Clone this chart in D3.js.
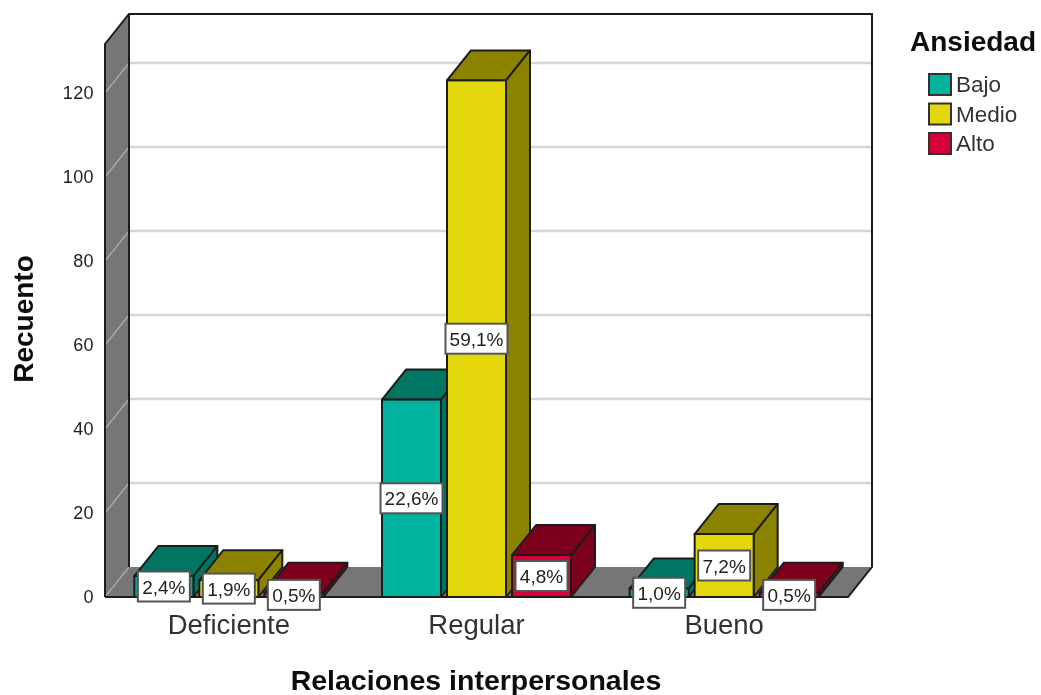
<!DOCTYPE html>
<html>
<head>
<meta charset="utf-8">
<script src="https://cdn.jsdelivr.net/npm/d3@7"></script>
<style>
  html, body { margin: 0; padding: 0; background: #fff; }
  svg { display: block; }
  text { font-family: "Liberation Sans", Arial, sans-serif; fill: #222; }
</style>
</head>
<body>
<div id="chart-container"></div>
<script>
// data
const categories = ["Deficiente", "Regular", "Bueno"];
const seriesNames = ["Bajo", "Medio", "Alto"];
const bajoValues = [5, 47, 2];
const medioValues = [4, 123, 15];
const altoValues = [1, 10, 1];
const bajoLabels = ["2,4%", "22,6%", "1,0%"];
const medioLabels = ["1,9%", "59,1%", "7,2%"];
const altoLabels = ["0,5%", "4,8%", "0,5%"];
const yTicks = [0, 20, 40, 60, 80, 100, 120];

const frontColors = ["#00b39e", "#e4d80e", "#d8003a"];
const darkColors = ["#007563", "#8b8306", "#7d001f"];

const svgWidth = 1041;
const svgHeight = 695;
const depthX = 24;   // 3D offset of the back wall
const depthY = -30;

const left = 105, right = 848, floorY = 597, topY = 44;

const xScale = d3.scaleBand().domain(categories).range([left, right]);
const xInner = d3.scaleBand().domain(seriesNames)
  .range([0, 189]).paddingInner(6 / 65);
const yScale = d3.scaleLinear().domain([0, 131.67]).range([floorY, topY]);

const rows = [];
categories.forEach((c, i) => {
  [bajoValues, medioValues, altoValues].forEach((vals, s) => {
    rows.push({
      cat: c, s: s, name: seriesNames[s], value: vals[i],
      label: [bajoLabels, medioLabels, altoLabels][s][i]
    });
  });
});

const svg = d3.select("#chart-container").append("svg")
  .attr("width", svgWidth).attr("height", svgHeight);

// the source is a slightly soft raster
svg.append("defs").append("filter").attr("id", "soft")
  .append("feGaussianBlur").attr("stdDeviation", 0.4);
const root = svg.append("g").attr("filter", "url(#soft)");

const pts = a => a.map(p => p.join(",")).join(" ");
const ink = "#1c1c1c";

// back wall
root.append("polygon")
  .attr("points", pts([[left + depthX, topY + depthY], [right + depthX, topY + depthY],
    [right + depthX, floorY + depthY], [left + depthX, floorY + depthY]]))
  .attr("fill", "#fff");

// left wall + floor
root.append("polygon")
  .attr("points", pts([[left, topY], [left + depthX, topY + depthY],
    [left + depthX, floorY + depthY], [left, floorY]]))
  .attr("fill", "#767676");
root.append("polygon")
  .attr("points", pts([[left, floorY], [right, floorY],
    [right + depthX, floorY + depthY], [left + depthX, floorY + depthY]]))
  .attr("fill", "#767676");

// gridlines
yTicks.filter(d => d > 0).forEach(d => {
  const y = yScale(d);
  root.append("line")
    .attr("x1", left + depthX).attr("x2", right + depthX)
    .attr("y1", y + depthY).attr("y2", y + depthY)
    .attr("stroke", "#d6d6d6").attr("stroke-width", 2.5);
});
yTicks.forEach(d => {
  const y = yScale(d);
  root.append("line")
    .attr("x1", left).attr("x2", left + depthX)
    .attr("y1", y).attr("y2", y + depthY)
    .attr("stroke", "#a8a8a8").attr("stroke-width", 1.5);
});

// frame
root.append("path")
  .attr("d", `M${left},${floorY}V${topY}L${left + depthX},${topY + depthY}H${right + depthX}V${floorY + depthY}L${right},${floorY}H${left}`)
  .attr("fill", "none").attr("stroke", ink).attr("stroke-width", 2);
root.append("line")
  .attr("x1", left + depthX).attr("x2", left + depthX)
  .attr("y1", topY + depthY).attr("y2", floorY + depthY)
  .attr("stroke", ink).attr("stroke-width", 2);

// y axis
const yAxis = d3.axisLeft(yScale).tickValues(yTicks).tickSize(0).tickPadding(11);
const yG = root.append("g").attr("transform", `translate(${left},0)`).call(yAxis);
yG.select(".domain").remove();
yG.selectAll("text").style("font-size", "18px").style("letter-spacing", "0.4px")
  .style("font-family", '"Liberation Sans", Arial, sans-serif').attr("fill", "#222");

// bars
const bars = root.selectAll("g.bar").data(rows).join("g").attr("class", "bar");
const barX = d => xScale(d.cat) + (xScale.bandwidth() - 189) / 2 + xInner(d.name);
const bw = xInner.bandwidth();
bars.append("polygon") // top
  .attr("points", d => {
    const x = barX(d), y = yScale(d.value);
    return pts([[x, y], [x + bw, y], [x + bw + depthX, y + depthY], [x + depthX, y + depthY]]);
  })
  .attr("fill", d => darkColors[d.s]).attr("stroke", ink).attr("stroke-width", 2)
  .attr("stroke-linejoin", "round");
bars.append("polygon") // side
  .attr("points", d => {
    const x = barX(d) + bw, y = yScale(d.value);
    return pts([[x, y], [x + depthX, y + depthY], [x + depthX, floorY + depthY], [x, floorY]]);
  })
  .attr("fill", d => darkColors[d.s]).attr("stroke", ink).attr("stroke-width", 2)
  .attr("stroke-linejoin", "round");
bars.append("rect") // front
  .attr("x", barX).attr("y", d => yScale(d.value))
  .attr("width", bw).attr("height", d => floorY - yScale(d.value))
  .attr("fill", d => frontColors[d.s]).attr("stroke", ink).attr("stroke-width", 2);

// percent labels
const labels = root.selectAll("g.lab").data(rows).join("g").attr("class", "lab")
  .attr("transform", d => `translate(${barX(d) + bw / 2},${(yScale(d.value) + floorY) / 2})`);
labels.append("rect")
  .attr("x", d => d.label.length > 4 ? -31 : -26).attr("y", -15)
  .attr("width", d => d.label.length > 4 ? 62 : 52).attr("height", 30)
  .attr("fill", "#fff").attr("stroke", "#555").attr("stroke-width", 2);
labels.append("text").text(d => d.label)
  .attr("text-anchor", "middle").attr("y", 7)
  .style("font-size", "19px");

// category labels
root.selectAll("text.cat").data(categories).join("text").attr("class", "cat")
  .text(d => d)
  .attr("x", d => xScale(d) + xScale.bandwidth() / 2)
  .attr("y", 634)
  .attr("text-anchor", "middle")
  .style("font-size", "27.5px").style("fill", "#333");

// axis titles
root.append("text").text("Relaciones interpersonales")
  .attr("x", 476).attr("y", 690).attr("text-anchor", "middle")
  .style("font-size", "28.5px").style("font-weight", "bold").style("fill", "#111");
root.append("text").text("Recuento")
  .attr("transform", "translate(33,319) rotate(-90)").attr("text-anchor", "middle")
  .style("font-size", "28px").style("font-weight", "bold").style("fill", "#111");

// legend
root.append("text").text("Ansiedad")
  .attr("x", 910).attr("y", 51)
  .style("font-size", "28px").style("font-weight", "bold").style("fill", "#111");
const legY = d3.scalePoint().domain(seriesNames).range([84, 143]);
const leg = root.selectAll("g.leg").data(seriesNames).join("g").attr("class", "leg")
  .attr("transform", d => `translate(929,${legY(d)})`);
leg.append("rect")
  .attr("x", 0).attr("y", -10).attr("width", 22).attr("height", 21)
  .attr("fill", (d, i) => frontColors[i]).attr("stroke", "#333").attr("stroke-width", 2);
leg.append("text").text(d => d)
  .attr("x", 27).attr("y", 8)
  .style("font-size", "22.5px").style("fill", "#333");
</script>
</body>
</html>
